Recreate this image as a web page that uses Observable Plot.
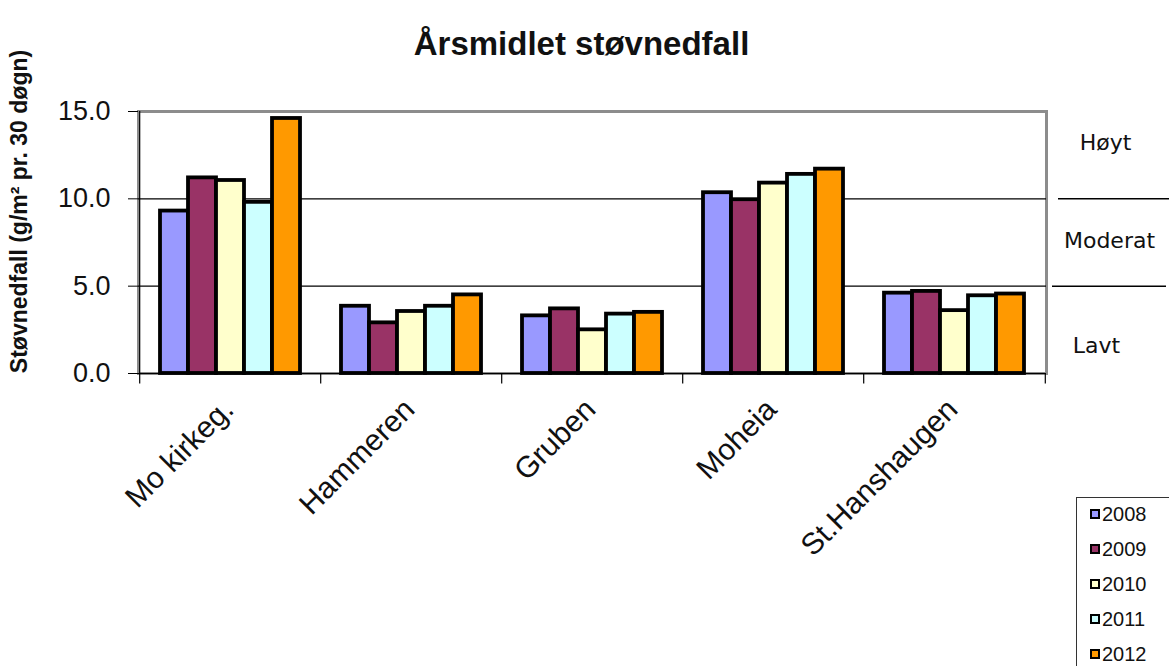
<!DOCTYPE html>
<html>
<head>
<meta charset="utf-8">
<script src="https://cdn.jsdelivr.net/npm/d3@7"></script>
<script src="https://cdn.jsdelivr.net/npm/@observablehq/plot@0.6"></script>
<style>
  body { margin: 0; background: #fff; }
  #chart { position: relative; width: 1169px; height: 666px; overflow: hidden; font-family: "Liberation Sans", Arial, sans-serif; }
  #chart svg { overflow: visible; }
  .legend { position: absolute; left: 1076px; top: 497px; width: 140px; height: 220px; border: 1px solid #333; background: #fff; box-sizing: border-box; }
  .legend .item { position: absolute; left: 13px; display: flex; align-items: center; font-size: 20px; color: #111; height: 20px; line-height: 20px; }
  .legend .sw { width: 6px; height: 6px; border: 2px solid #000; margin-right: 2px; }
</style>
</head>
<body>
<div id="chart"></div>
<script>
// Annual mean dust fall per measuring station, g/m² per 30 days
const sites = ["Mo kirkeg.", "Hammeren", "Gruben", "Moheia", "St.Hanshaugen"];
const years = ["2008", "2009", "2010", "2011", "2012"];
const v2008 = [9.3, 3.85, 3.3, 10.35, 4.6];
const v2009 = [11.2, 2.9, 3.7, 9.95, 4.7];
const v2010 = [11.05, 3.55, 2.5, 10.9, 3.6];
const v2011 = [9.8, 3.85, 3.4, 11.4, 4.45];
const v2012 = [14.6, 4.5, 3.5, 11.7, 4.55];
const yearColors = ["#9999ff", "#993366", "#ffffcc", "#ccffff", "#ff9900"];
const yTicks = [0, 5, 10, 15];
// Classification bands shown to the right of the plot
const zoneLabels = ["Høyt", "Moderat", "Lavt"];
const zoneLow = [10, 5, 0];
const zoneHigh = [15, 10, 5];

const series = [v2008, v2009, v2010, v2011, v2012];
const rows = [];
years.forEach((yr, i) => series[i].forEach((v, j) => rows.push({site: sites[j], year: yr, value: v})));

const W = 1169, H = 666, mL = 138, mR = 123, mT = 111, mB = 293;
const padIn = 0.229;
const step = (W - mL - mR) / sites.length;
const bandW = step * (1 - padIn);
const barW = bandW / years.length;
const font = "Liberation Sans, Arial, sans-serif";

const zoneMarks = zoneLabels.map((lab, i) =>
  Plot.text([lab], {
    y: [(zoneLow[i] + zoneHigh[i]) / 2],
    text: d => d,
    frameAnchor: "right",
    textAnchor: "middle",
    dx: [59, 63, 50][i],
    dy: [-12, -2, 16][i],
    fontSize: 22,
    fontFamily: "DejaVu Sans, sans-serif",
    fill: "#111"
  })
);

const chart = Plot.plot({
  width: W,
  height: H,
  marginLeft: mL,
  marginRight: mR,
  marginTop: mT,
  marginBottom: mB,
  style: {fontFamily: font, background: "#fff", color: "#000"},
  x: {domain: sites, paddingInner: padIn, paddingOuter: padIn / 2, axis: null},
  y: {domain: [0, 15]},
  color: {domain: years, range: yearColors},
  marks: [
    Plot.frame({stroke: "#8c8c8c", strokeWidth: 3}),
    Plot.ruleY([5, 10], {stroke: "#000", strokeWidth: 1.2}),
    ...years.map((yr, i) =>
      Plot.barY(rows.filter(d => d.year === yr), {
        x: "site",
        y: "value",
        fill: "year",
        stroke: "#000",
        strokeWidth: 3.8,
        insetLeft: i * barW,
        insetRight: (years.length - 1 - i) * barW
      })
    ),
    // axis lines
    Plot.ruleY([0], {stroke: "#000", strokeWidth: 1.2}),
    Plot.ruleX([sites[0]], {y1: 0, y2: 15, dx: -step / 2, stroke: "#000", strokeWidth: 1.2}),
    // category boundary ticks
    Plot.ruleX(sites, {y1: 0, y2: -0.6, dx: -step / 2, stroke: "#000", strokeWidth: 1.2}),
    Plot.ruleX([sites[sites.length - 1]], {y1: 0, y2: -0.6, dx: step / 2, stroke: "#000", strokeWidth: 1.2}),
    Plot.axisY(yTicks, {
      tickSize: 10,
      tickPadding: 18,
      tickFormat: d3.format(".1f"),
      fontSize: 27,
      label: null,
      fill: "#111"
    }),
    // category labels
    Plot.text(sites, {
      x: d => d,
      text: d => d,
      frameAnchor: "bottom",
      rotate: -45,
      textAnchor: "end",
      lineAnchor: "middle",
      dy: 31,
      dx: -2,
      fontSize: 30,
      fill: "#111"
    }),
    // title
    Plot.text(["Årsmidlet støvnedfall"], {
      text: d => d,
      frameAnchor: "top",
      dy: -80,
      dx: -11,
      fontSize: 33,
      fontWeight: "bold",
      fill: "#111"
    }),
    // y axis title
    Plot.text(["Støvnedfall (g/m² pr. 30 døgn)"], {
      text: d => d,
      frameAnchor: "left",
      textAnchor: "middle",
      rotate: -90,
      dx: -119,
      dy: -31,
      fontSize: 23,
      fontWeight: "bold",
      fill: "#111"
    }),
    // band separators to the right of the plot
    Plot.ruleY([10], {stroke: "#000", strokeWidth: 1.5, insetLeft: 1058 - mL, insetRight: -mR}),
    Plot.ruleY([5], {stroke: "#000", strokeWidth: 1.5, insetLeft: 1052 - mL, insetRight: -(1166 - (W - mR))}),
    ...zoneMarks
  ]
});

const root = document.getElementById("chart");
root.appendChild(chart);

// legend
const legend = document.createElement("div");
legend.className = "legend";
years.forEach((yr, i) => {
  const item = document.createElement("div");
  item.className = "item";
  item.style.top = (6 + i * 35) + "px";
  const sw = document.createElement("span");
  sw.className = "sw";
  sw.style.background = yearColors[i];
  const t = document.createElement("span");
  t.textContent = yr;
  item.appendChild(sw);
  item.appendChild(t);
  legend.appendChild(item);
});
root.appendChild(legend);
</script>
</body>
</html>
